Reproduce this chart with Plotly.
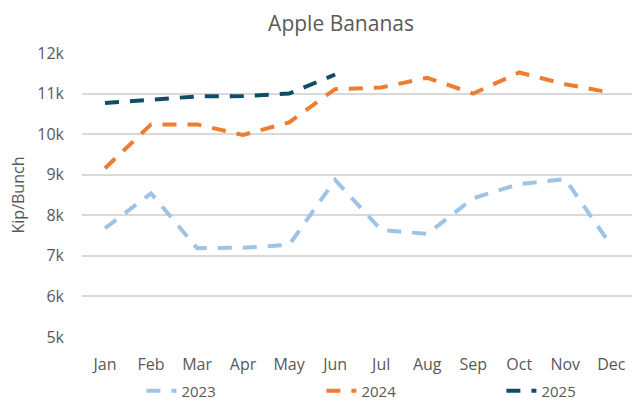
import plotly.graph_objects as go

months = ["Jan", "Feb", "Mar", "Apr", "May", "Jun", "Jul", "Aug", "Sep", "Oct", "Nov", "Dec"]
y2023 = [7680, 8540, 7190, 7200, 7270, 8870, 7640, 7540, 8420, 8770, 8890, 7250]
y2024 = [9160, 10240, 10240, 9980, 10290, 11110, 11150, 11390, 11000, 11520, 11230, 11020]
y2025 = [10770, 10840, 10930, 10940, 11000, 11470]
series = [("2023", y2023, "#9DC3E6"), ("2024", y2024, "#ED7D31"), ("2025", y2025, "#0F4C68")]
yticks = [5000, 6000, 7000, 8000, 9000, 10000, 11000, 12000]
yticklabels = ["5k", "6k", "7k", "8k", "9k", "10k", "11k", "12k"]

font_family = "Open Sans, Noto Sans, sans-serif"
gray = "#595959"

fig = go.Figure()
for name, vals, color in series:
    fig.add_trace(go.Scatter(
        x=months[:len(vals)], y=vals, name=name, mode="lines",
        line=dict(color=color, width=4, dash="14px,11px"),
    ))

fig.update_layout(
    width=632, height=402,
    margin=dict(l=82, r=0, t=53, b=65, autoexpand=False),
    paper_bgcolor="white", plot_bgcolor="white",
    font=dict(family=font_family, color=gray, size=16),
    title=dict(text="Apple Bananas", x=0.471, xref="paper", xanchor="center",
               y=0.94, yanchor="middle",
               font=dict(size=21, color=gray, family=font_family)),
    showlegend=True,
    legend=dict(orientation="h", x=0.108, xanchor="left", y=-0.19, yanchor="middle",
                entrywidth=135, entrywidthmode="pixels",
                font=dict(size=15, color=gray)),
    xaxis=dict(type="category", categoryorder="array", categoryarray=months,
               range=[-0.5, 11.45], showgrid=False, showline=False, zeroline=False,
               automargin=False,
               ticks="", ticklabelstandoff=16, tickfont=dict(size=16, color=gray)),
    yaxis=dict(range=[5000, 12000], tickvals=yticks, ticktext=yticklabels,
               showgrid=True, gridcolor="#D9D9D9", gridwidth=1.5, zeroline=False,
               showline=False, ticks="", ticklabelstandoff=17, automargin=False,
               tickfont=dict(size=16, color=gray),
               title=dict(text="Kip/Bunch", font=dict(size=16, color=gray), standoff=8)),
)

fig.write_html("out.html", config={"displayModeBar": False},
               post_script="document.body.style.margin='0';")
